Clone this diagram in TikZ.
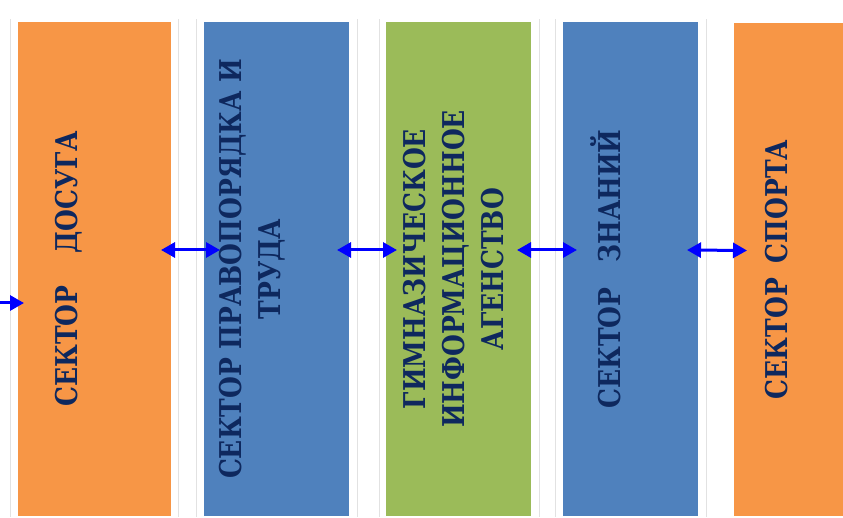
\documentclass[tikz,border=0pt]{standalone}
\usepackage{fontspec}
\setmainfont{Liberation Serif}
\newfontfamily\sectorfont[FakeStretch=0.835]{DejaVu Serif}
\usetikzlibrary{positioning,arrows.meta}
\definecolor{sectororange}{HTML}{F79646}
\definecolor{sectorblue}{HTML}{4F81BD}
\definecolor{sectorgreen}{HTML}{9BBB59}
\definecolor{sectornavy}{RGB}{14,40,94}
\definecolor{gridgray}{RGB}{226,226,226}
\begin{document}
\begin{tikzpicture}[x=1pt,y=1pt,node distance=33pt,
            sector/.style={rectangle,draw=none,minimum height=494pt,inner sep=0pt,outer sep=0pt},
            sector text/.style={rotate=90,align=center,text=sectornavy,
              font=\sectorfont\fontsize{30}{39}\selectfont\bfseries},
            link line/.style={draw=blue,line width=3pt},
            link/.style={link line,{Triangle[length=14pt,width=15pt]}-{Triangle[length=14pt,width=15pt]}},
            entry link/.style={link line,-{Triangle[length=14pt,width=15pt]}}]
        \useasboundingbox (0,0) rectangle (843,517);

        % table lines
        \foreach \gx in {10,178,196,357,379,539,555,706}
            \draw[gridgray,line width=0.8pt] (\gx,0) -- (\gx,498);

        % Define sectors
        \node[sector,fill=sectororange,minimum width=153pt,anchor=south west] (leisure) at (18,1) {};
        \node[sector,fill=sectorblue,minimum width=145pt] (order) [right=33pt of leisure] {};
        \node[sector,fill=sectorgreen,minimum width=145pt] (agency) [right=37pt of order] {};
        \node[sector,fill=sectorblue,minimum width=135pt] (knowledge) [right=32pt of agency] {};
        \node[sector,fill=sectororange,minimum width=111pt,minimum height=493pt,anchor=south west]
            (sport) at (734,1) {};

        % Sector names
        \node[sector text] at ([xshift=-26pt]leisure.center) {СЕКТОР\hspace{32pt}ДОСУГА};
        \node[sector text] at ([xshift=-24pt]order.center)
            {СЕКТОР ПРАВОПОРЯДКА И\\ТРУДА};
        \node[sector text] at ([xshift=-5pt]agency.center)
            {ГИМНАЗИЧЕСКОЕ\\ИНФОРМАЦИОННОЕ\\АГЕНСТВО};
        \node[sector text] at ([xshift=-25pt]knowledge.center) {СЕКТОР\hspace{25pt}ЗНАНИЙ};
        \node[sector text] at ([xshift=-13pt]sport.center) {СЕКТОР\hspace{15pt}СПОРТА};

        % Draw links
        \coordinate (entry) at (0,214);
        \draw[entry link] (entry) -- ([xshift=6pt,yshift=-34pt]leisure.west);
        \draw[link] ([xshift=-10pt,yshift=19pt]leisure.east) -- ([xshift=16pt,yshift=19pt]order.west);
        \draw[link] ([xshift=-12pt,yshift=19pt]order.east) -- ([xshift=11pt,yshift=19pt]agency.west);
        \draw[link] ([xshift=-14pt,yshift=19pt]agency.east) -- ([xshift=14pt,yshift=19pt]knowledge.west);
        \draw[link] ([xshift=-11pt,yshift=19pt]knowledge.east) -- ([xshift=13pt,yshift=19pt]sport.west);

\end{tikzpicture}
\end{document}
